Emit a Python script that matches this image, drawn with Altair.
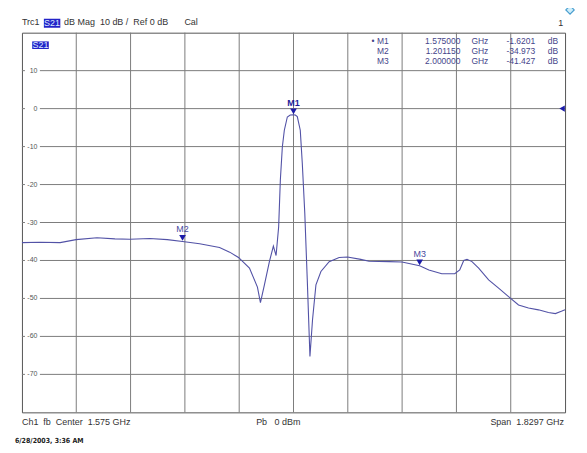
import altair as alt
import pandas as pd

# ---------------- data ----------------
freq_ghz = [0.6602, 0.7216, 0.7887, 0.8425, 0.9130, 0.9734, 1.0238, 1.0909, 1.1500,
            1.2012, 1.2588, 1.3259, 1.3600, 1.3897, 1.4266, 1.4535, 1.4636, 1.4770,
            1.4938, 1.5072, 1.5163, 1.5250, 1.5307, 1.5374, 1.5441, 1.5542, 1.5640,
            1.5750, 1.5810, 1.5878, 1.5978, 1.6046, 1.6130, 1.6214, 1.6304, 1.6391,
            1.6506, 1.6674, 1.6952, 1.7288, 1.7566, 1.8017, 1.8295, 1.8967, 1.9403,
            2.0000, 2.0310, 2.0746, 2.1183, 2.1350, 2.1485, 2.1595, 2.1763, 2.1988,
            2.2324, 2.2660, 2.2995, 2.3331, 2.3667, 2.4002, 2.4338, 2.4573, 2.4774,
            2.4898]
s21_db = [-35.3, -35.2, -35.3, -34.5, -34.0, -34.3, -34.4, -34.2, -34.5,
          -35.0, -35.6, -36.6, -37.8, -39.2, -42.0, -47.0, -51.1, -46.4,
          -40.3, -36.2, -38.7, -31.1, -18.8, -10.1, -5.7, -2.2, -1.7,
          -1.6, -1.7, -2.1, -5.7, -14.4, -27.5, -45.1, -65.3, -55.6,
          -46.4, -42.9, -40.3, -39.2, -39.1, -39.7, -40.2, -40.3, -40.4,
          -41.4, -42.5, -43.5, -43.5, -42.5, -40.0, -39.7, -40.3, -42.0,
          -45.1, -47.3, -49.5, -51.7, -52.5, -53.0, -53.7, -54.0, -53.4,
          -53.0]

marker_names = ["M1", "M2", "M3"]
marker_freq_ghz = [1.575, 1.20115, 2.0]
marker_db = [-1.6201, -34.973, -41.427]
marker_table_names = ["\u2022 M1", "M2", "M3"]
marker_freq_text = ["1.575000", "1.201150", "2.000000"]
marker_db_text = ["-1.6201", "-34.973", "-41.427"]

y_label_values = [10, 0, -10, -20, -30, -40, -50, -60, -70]

CENTER_GHZ = 1.575
SPAN_GHZ = 1.8297
REF_DB = 0
DB_TOP, DB_BOTTOM = 20, -80

f_start = CENTER_GHZ - SPAN_GHZ / 2
f_stop = CENTER_GHZ + SPAN_GHZ / 2
x_grid = [f_start + SPAN_GHZ * i / 10 for i in range(1, 10)]

NB = "\u00a0"
FONT = "Liberation Sans"
GRID = "#7c7c7c"

xs = alt.Scale(domain=[f_start, f_stop], nice=False, zero=False)
ys = alt.Scale(domain=[DB_BOTTOM, DB_TOP], nice=False, zero=False)


def X(field):
    return alt.X(f"{field}:Q", scale=xs, axis=None)


def Y(field):
    return alt.Y(f"{field}:Q", scale=ys, axis=None)


# ---------------- grid ----------------
vgrid = alt.Chart(pd.DataFrame({"f": x_grid})).mark_rule(
    color=GRID, strokeWidth=1).encode(x=X("f"))
hgrid = alt.Chart(pd.DataFrame({"db": y_label_values})).mark_rule(
    color=GRID, strokeWidth=1).encode(y=Y("db"))

# ---------------- trace ----------------
trace_df = pd.DataFrame({"f": freq_ghz, "db": s21_db})
trace = alt.Chart(trace_df).mark_line(color="#5252a6", strokeWidth=1.1).encode(
    x=X("f"), y=Y("db"))

# white gaps behind the in-plot y labels
ylab_df = pd.DataFrame({"db": y_label_values,
                        "lab": [str(v) for v in y_label_values]})
ylab_df["x1"] = 0.6702
ylab_df["x2"] = 0.7206
ylab_df["y1"] = ylab_df["db"] - 1.2
ylab_df["y2"] = ylab_df["db"] + 1.2
ylab_df["xt"] = 0.7122
gaps = alt.Chart(ylab_df).mark_rect(color="white").encode(
    x=X("x1"), x2="x2:Q", y=Y("y1"), y2="y2:Q")
ylabels = alt.Chart(ylab_df).mark_text(
    align="right", baseline="middle", fontSize=7, font=FONT, color="#555555"
).encode(x=X("xt"), y=Y("db"), text="lab:N")

# ---------------- markers ----------------
mk_df = pd.DataFrame({"f": marker_freq_ghz, "db": marker_db, "name": marker_names})
mk_tri = alt.Chart(mk_df).mark_point(
    shape="triangle-down", filled=True, color="#1c1ca8", size=45, opacity=1, yOffset=-3.5
).encode(x=X("f"), y=Y("db"))
mk_lab1 = alt.Chart(mk_df.iloc[[0]]).mark_text(
    baseline="middle", fontSize=9, font=FONT, fontWeight="bold", color="#1c1c9a", dy=-12
).encode(x=X("f"), y=Y("db"), text="name:N")
mk_lab2 = alt.Chart(mk_df.iloc[1:]).mark_text(
    baseline="middle", fontSize=9, font=FONT, color="#4848a0", dy=-12
).encode(x=X("f"), y=Y("db"), text="name:N")

ref_df = pd.DataFrame({"f": [f_stop], "db": [REF_DB]})
ref_tri = alt.Chart(ref_df).mark_point(
    shape="triangle-left", filled=True, color="#1c1ca8", size=40, opacity=1, xOffset=-3
).encode(x=X("f"), y=Y("db"))

# ---------------- marker table ----------------
row_db = [17.9, 15.28, 12.65]
tab_df = pd.DataFrame({"db": row_db, "name": marker_table_names,
                       "fv": marker_freq_text, "dv": marker_db_text})
tab_df["x_name"] = 1.8956
tab_df["x_fv"] = 2.1374
tab_df["x_ghz"] = 2.1743
tab_df["x_dv"] = 2.3891
tab_df["x_db"] = 2.4663
tab_df["ghz"] = "GHz"
tab_df["dbu"] = "dB"


def tab_col(xcol, tcol, align):
    return alt.Chart(tab_df).mark_text(
        align=align, baseline="middle", fontSize=8.5, font=FONT, color="#45458a"
    ).encode(x=X(xcol), y=Y("db"), text=f"{tcol}:N")


table = [tab_col("x_name", "name", "right"), tab_col("x_fv", "fv", "right"),
         tab_col("x_ghz", "ghz", "left"), tab_col("x_dv", "dv", "right"),
         tab_col("x_db", "dbu", "right")]

# ---------------- highlighted S21 boxes ----------------
box_df = pd.DataFrame({"x1": [0.7340, 0.6947], "x2": [0.7894, 0.7506],
                       "y1": [21.3, 15.7], "y2": [23.7, 17.7],
                       "xt": [0.7617, 0.7227], "yt": [22.55, 16.75],
                       "t": ["S21", "S21"]})
boxes = alt.Chart(box_df).mark_rect(color="#2323c8").encode(
    x=X("x1"), x2="x2:Q", y=Y("y1"), y2="y2:Q")
box_txt = alt.Chart(box_df).mark_text(
    align="center", baseline="middle", fontSize=9, font=FONT, color="#d8e8ff"
).encode(x=X("xt"), y=Y("yt"), text="t:N")

# ---------------- header / footer text ----------------
hdr_df = pd.DataFrame({
    "t": ["Trc1", f"dB{NB}Mag{NB}{NB}10{NB}dB{NB}/{NB}{NB}Ref{NB}0{NB}dB", "Cal",
          f"Ch1{NB}{NB}fb{NB}{NB}Center{NB}{NB}1.575{NB}GHz", f"Pb{NB}{NB}{NB}0{NB}dBm"],
    "f": [0.6602, 0.8022, 1.2074, 0.6602, 1.4491],
    "db": [22.76, 22.76, 22.76, -82.6, -82.6]})
hdr = alt.Chart(hdr_df).mark_text(
    align="left", baseline="middle", fontSize=9, font=FONT, color="#333333"
).encode(x=X("f"), y=Y("db"), text="t:N")
right_df = pd.DataFrame({"t": [f"Span{NB}{NB}1.8297{NB}GHz", "1"],
                         "f": [2.4865, 2.4835], "db": [-82.6, 22.6]})
hdr_r = alt.Chart(right_df).mark_text(
    align="right", baseline="middle", fontSize=9, font=FONT, color="#333333"
).encode(x=X("f"), y=Y("db"), text="t:N")
date_df = pd.DataFrame({"t": ["6/28/2003, 3:36 AM"], "f": [0.6366], "db": [-87.6]})
date = alt.Chart(date_df).mark_text(
    align="left", baseline="middle", fontSize=7, fontWeight="bold",
    font="Liberation Sans Narrow, DejaVu Sans Condensed, sans-serif", color="#222222"
).encode(x=X("f"), y=Y("db"), text="t:N")
logo_df = pd.DataFrame({"f": [2.5066], "db": [26.0]})
logo = alt.Chart(logo_df).mark_point(
    shape="diamond", filled=True, fill="#cfeefa", stroke="#4a9fd0", strokeWidth=1.2,
    size=70, opacity=1
).encode(x=X("f"), y=Y("db"))

chart = alt.layer(
    vgrid, hgrid, gaps, ylabels, trace, *table, boxes, box_txt, hdr, hdr_r, date, logo,
    ref_tri, mk_tri, mk_lab1, mk_lab2
).properties(
    width=545, height=381, autosize="none",
    padding={"left": 14, "top": 24, "right": 14, "bottom": 32},
    background="white"
).configure_view(stroke="#555555", strokeWidth=1)

chart.save("out.html", embed_options={"renderer": "svg", "actions": False})
